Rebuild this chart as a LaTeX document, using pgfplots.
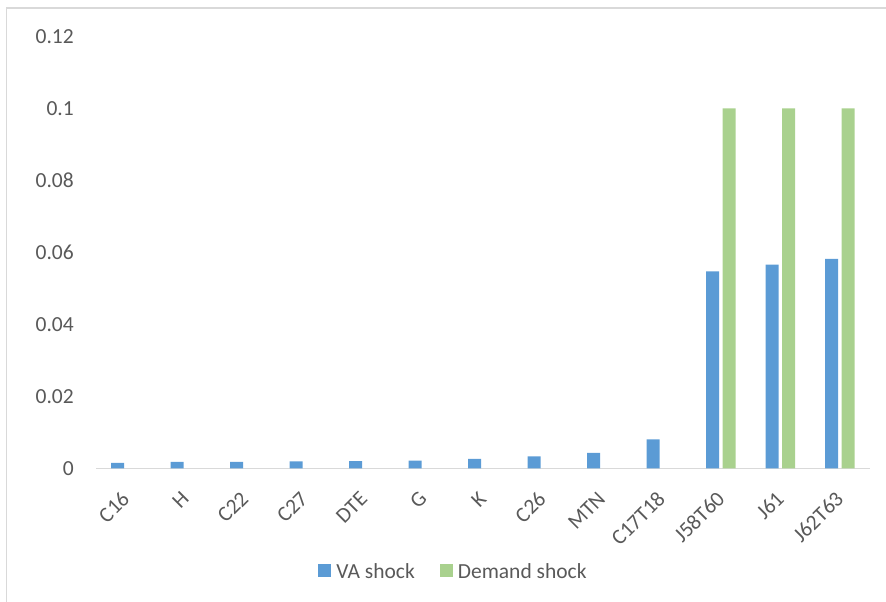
\documentclass[border=0pt]{standalone}
\usepackage{fontspec}
\setmainfont{Carlito}
\usepackage{pgfplots}
\pgfplotsset{compat=1.18}
\definecolor{vablue}{HTML}{5B9BD5}
\definecolor{demgreen}{HTML}{A9D18E}
\definecolor{txtgray}{HTML}{595959}
\definecolor{linegray}{HTML}{D9D9D9}

\begin{document}
\begin{tikzpicture}[x=1pt,y=1pt]
\useasboundingbox (0,0) rectangle (886,602);
\begin{scope}
\clip (0,0) rectangle (886,602);
\draw[linegray, line width=1.3pt] (6.7,594) rectangle (900,-20);
\end{scope}
\begin{axis}[
  at={(96pt,133.7pt)}, anchor=south west,
  scale only axis, width=773.5pt, height=432pt,
  xmin=-0.5, xmax=12.5, ymin=0, ymax=0.12,
  ybar=3.5pt, bar width=13pt,
  axis x line*=bottom, axis y line*=left,
  y axis line style={draw=none},
  x axis line style={draw=linegray, line width=1.5pt},
  major tick length=0pt,
  xtick={0,1,2,3,4,5,6,7,8,9,10,11,12},
  xticklabels={C16,H,C22,C27,DTE,G,K,C26,MTN,C17T18,J58T60,J61,J62T63},
  ytick={0,0.02,0.04,0.06,0.08,0.1,0.12},
  yticklabels={0,0.02,0.04,0.06,0.08,0.1,0.12},
  tick label style={font=\fontsize{21.5}{21.5}\selectfont, text=txtgray, inner sep=0pt},
  xticklabel style={yshift=-27pt, rotate=45, anchor=east},
  yticklabel style={xshift=-22pt, anchor=east},
  legend columns=2,
  legend style={at={(0.4609,-0.2394)}, anchor=center, draw=none, fill=none,
    font=\fontsize{21.5}{21.5}\selectfont, text=txtgray,
    nodes={inner sep=0pt},
    /tikz/every odd column/.append style={column sep=5pt},
    /tikz/every even column/.append style={column sep=25pt}},
  legend image code/.code={\fill[#1] (0pt,-5pt) rectangle (13pt,8pt);},
]
% value added shock, by sector
\addplot[fill=vablue, draw=none] coordinates {
  (0,0.0015) (1,0.0018) (2,0.0018) (3,0.0019) (4,0.0020) (5,0.0021)
  (6,0.0026) (7,0.0033) (8,0.0043) (9,0.0080) (10,0.0547) (11,0.0566)
  (12,0.0582)};
\addlegendentry{VA shock}
% final demand shock, by sector
\addplot[fill=demgreen, draw=none] coordinates {
  (10,0.1) (11,0.1) (12,0.1)};
\addlegendentry{Demand shock}
\end{axis}
\end{tikzpicture}
\end{document}
